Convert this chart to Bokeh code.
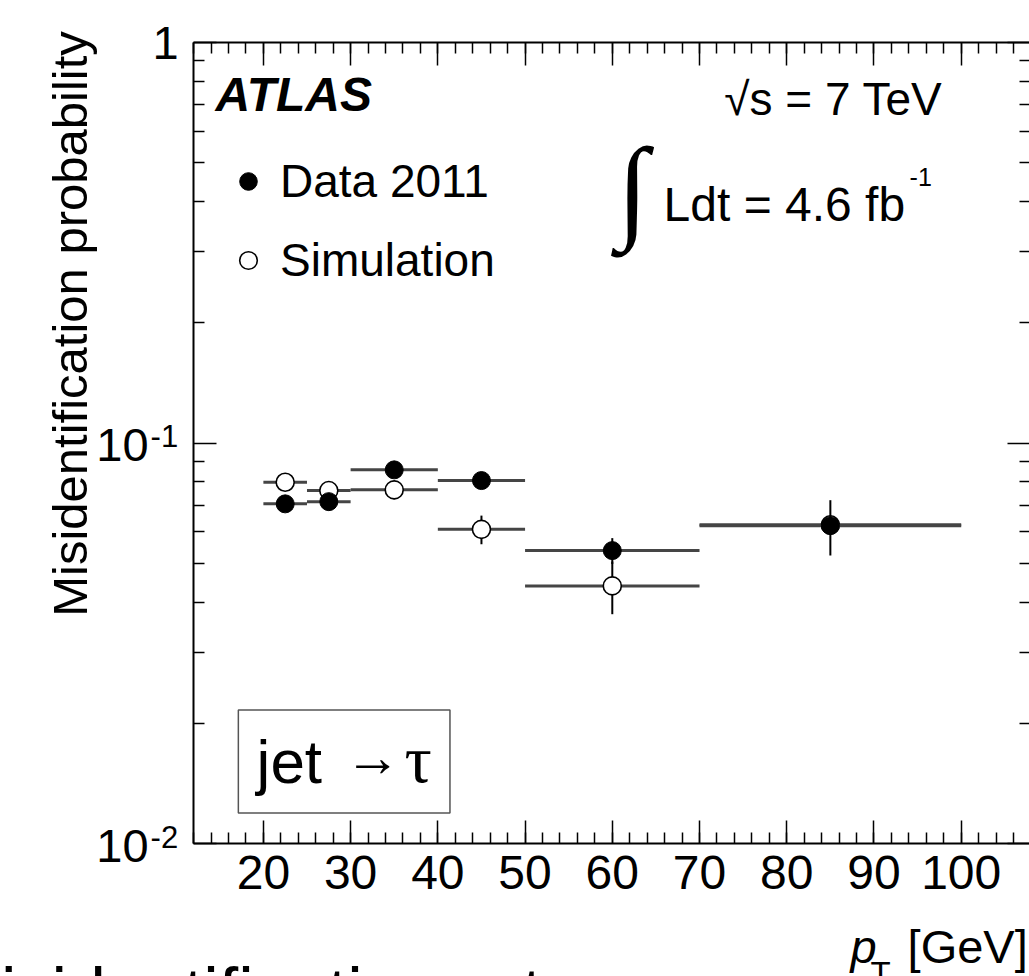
import numpy as np
from bokeh.plotting import figure
from bokeh.models import (Range1d, LinearAxis, LogAxis, FixedTicker, SingleIntervalTicker,
                          Label, Legend, LegendItem, BoxAnnotation, ColumnDataSource)
from bokeh.embed import file_html
from bokeh.resources import INLINE

# ---------------- data ----------------
bin_lo = [20, 25, 30, 40, 50, 70]
bin_hi = [25, 30, 40, 50, 70, 100]
pt_center = [22.5, 27.5, 35, 45, 60, 85]
data_rate = [0.0705, 0.0714, 0.0857, 0.0806, 0.0539, 0.0622]
data_err = [0.002, 0.002, 0.002, 0.002, 0.004, 0.0098]
sim_rate = [0.0798, 0.0761, 0.0764, 0.0609, 0.0440, 0.0625]
sim_err = [0.003, 0.0035, 0.004, 0.005, 0.0066, 0.002]

y_major = [0.01, 0.1, 1.0]
y_minor = [k * 10.0 ** e for e in (-2, -1) for k in range(2, 10)]
ytick_vals = [1.0, 0.1, 0.01]
ytick_base = ["1", "10", "10"]
ytick_sup = ["", "-1", "-2"]

FONT = "Liberation Sans"

src = ColumnDataSource(dict(
    lo=bin_lo, hi=bin_hi, x=pt_center,
    d=data_rate,
    d_lo=[v - e for v, e in zip(data_rate, data_err)],
    d_hi=[v + e for v, e in zip(data_rate, data_err)],
    s=sim_rate,
    s_lo=[v - e for v, e in zip(sim_rate, sim_err)],
    s_hi=[v + e for v, e in zip(sim_rate, sim_err)],
))

# axes box spans x 12..108 and y 0.01..1; the canvas extends beyond it
X_LO, X_HI = 12, 108
Y_LO, Y_HI = 0.01, 1.0

p = figure(width=1029, height=976, x_range=Range1d(-10.138, 107.83),
           y_range=Range1d(0.004666, 1.2708),
           y_axis_type="log", output_backend="svg", toolbar_location=None,
           min_border=0, min_border_left=0, min_border_right=0, min_border_top=0,
           min_border_bottom=0,
           background_fill_color="white", border_fill_color="white", outline_line_color=None)
p.xgrid.visible = False
p.ygrid.visible = False

xt = SingleIntervalTicker(interval=10, num_minor_ticks=5)
yt = FixedTicker(ticks=y_major, minor_ticks=y_minor)


def style_axis(ax):
    ax.axis_line_width = 2
    ax.axis_line_color = "black"
    ax.major_tick_in = 23
    ax.major_tick_out = 0
    ax.minor_tick_in = 11
    ax.minor_tick_out = 0
    ax.major_tick_line_width = 1.5
    ax.minor_tick_line_width = 1.5
    ax.major_tick_line_color = "black"
    ax.minor_tick_line_color = "black"


xa = p.xaxis[0]
xa.ticker = xt
style_axis(xa)
xa.fixed_location = Y_LO
xa.bounds = (X_LO, X_HI)
xa.major_label_text_font = FONT
xa.major_label_text_font_size = "48px"
xa.major_label_text_color = "black"
xa.major_label_standoff = 12

ya = p.yaxis[0]
ya.ticker = yt
style_axis(ya)
ya.fixed_location = X_LO
ya.bounds = (Y_LO, Y_HI)
ya.major_label_text_color = None

top_ax = LinearAxis(ticker=xt, fixed_location=Y_HI, bounds=(X_LO, X_HI))
style_axis(top_ax)
top_ax.major_label_text_color = None
p.add_layout(top_ax, "above")

right_ax = LogAxis(ticker=yt, fixed_location=X_HI, bounds=(Y_LO, Y_HI))
style_axis(right_ax)
right_ax.major_label_text_color = None
p.add_layout(right_ax, "right")

# ---------------- glyphs ----------------
p.segment(x0="lo", x1="hi", y0="s", y1="s", line_color="#454545", line_width=3, source=src)
p.segment(x0="x", x1="x", y0="s_lo", y1="s_hi", line_color="black", line_width=2, source=src)
sim_r = p.scatter("x", "s", size=18, marker="circle", fill_color="white",
                  line_color="black", line_width=1.6, source=src)

p.segment(x0="lo", x1="hi", y0="d", y1="d", line_color="#454545", line_width=3, source=src)
p.segment(x0="x", x1="x", y0="d_lo", y1="d_hi", line_color="black", line_width=2, source=src)
data_r = p.scatter("x", "d", size=18, marker="circle", fill_color="black",
                   line_color="black", line_width=1, source=src)

legend = Legend(items=[LegendItem(label="Data 2011", renderers=[data_r]),
                       LegendItem(label="Simulation", renderers=[sim_r])],
                location=(226, 689), padding=0, margin=0, spacing=25,
                glyph_width=44, glyph_height=44, label_height=44, label_standoff=10,
                label_text_font=FONT, label_text_font_size="46px", label_text_color="black",
                border_line_alpha=0, background_fill_alpha=0)
p.add_layout(legend)


def lab(text, x, y, dx, dy, size, align="left", baseline="alphabetic", font=FONT,
        style="normal", angle=0.0, color="black"):
    p.add_layout(Label(x=x, y=y, x_offset=dx, y_offset=dy, text=text,
                       text_font=font, text_font_size=f"{size}px", text_font_style=style,
                       text_align=align, text_baseline=baseline, angle=angle,
                       text_color=color))


# jet -> tau box
p.add_layout(BoxAnnotation(left=17.13, right=41.39, bottom=0.01193, top=0.02158,
                           fill_color="white", fill_alpha=1.0, line_color="#555555",
                           line_alpha=1.0, line_width=1.5))

lab("ATLAS", X_LO, Y_HI, 22, -52, 48, style="bold italic")
lab("√s = 7 TeV", X_LO, Y_HI, 749, -57, 46, align="right")
lab("∫", X_LO, Y_HI, 439, -146, 114, align="center", baseline="middle",
    font="Liberation Serif")
lab("Ldt = 4.6 fb", X_LO, Y_HI, 470, -162, 48)
lab("-1", X_LO, Y_HI, 716, -135, 25)

lab("jet", X_LO, Y_LO, 63, 82, 62)
lab("→", X_LO, Y_LO, 151, 87, 56)
lab("τ", X_LO, Y_LO, 211, 84.5, 68, font="Liberation Serif")

lab("p", X_LO, Y_LO, 657, -102.7, 47, style="italic")
lab("T", X_LO, Y_LO, 677, -129.5, 33)
lab("[GeV]", X_LO, Y_LO, 714, -102.7, 47)

for v, b, s in zip(ytick_vals, ytick_base, ytick_sup):
    if s:
        lab(b, X_LO, v, -45, -2, 47, align="right")
        lab(s, X_LO, v, -43, 7, 31)
    else:
        lab(b, X_LO, v, -15, -1, 47, align="right")

lab("Misidentification probability", X_LO, Y_HI, -124, 11, 49, align="right",
    angle=np.pi / 2)
lab("misidentification rate", X_LO, Y_LO, -251, -149.5, 70)

open("out.html", "w").write(file_html(p, INLINE))
